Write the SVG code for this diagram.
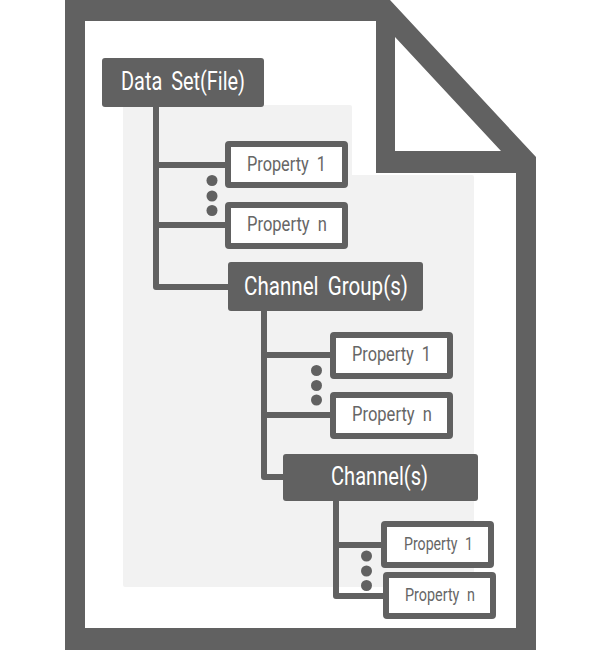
<svg xmlns="http://www.w3.org/2000/svg" width="601" height="650" viewBox="0 0 601 650">
<style>
.dark{fill:#616161}
.prop rect{fill:#fff;stroke:#616161;stroke-width:6}
.head rect{fill:#616161}
text{font-family:"Roboto","Liberation Sans",sans-serif;word-spacing:5px}
.prop text{fill:#666;font-size:20px}
.small text{font-size:17.500px}
.head text{fill:#fff;font-size:25px}
.wire{fill:none;stroke:#616161;stroke-width:6;stroke-linejoin:round}
.dot{fill:#616161}
</style>
<rect width="601" height="650" fill="#fff"/>
<g id="document">
<path class="dark" fill-rule="evenodd" d="M65 0H390L536 157V650H65ZM85 21V628H516V173H376V21ZM395 37V151H501Z"/>
</g>
<g id="shading">
<rect x="123" y="105" width="229" height="80" rx="2" fill="#f2f2f2"/>
<rect x="123" y="175" width="351" height="412" rx="2" fill="#f2f2f2"/>
</g>
<g id="connectors">
<path class="wire" d="M156 107V287H228M156 165H225M156 225H225"/>
<path class="wire" d="M264 311V477H283M264 355H330M264 415H330"/>
<path class="wire" d="M336 501V596H383M336 545H381"/>
<circle class="dot" cx="212" cy="180.500" r="5.500"/><circle class="dot" cx="212" cy="196" r="5.500"/><circle class="dot" cx="212" cy="210.500" r="5.500"/>
<circle class="dot" cx="316.500" cy="370.500" r="5.500"/><circle class="dot" cx="316.500" cy="385.500" r="5.500"/><circle class="dot" cx="316.500" cy="400" r="5.500"/>
<circle class="dot" cx="366.500" cy="556" r="5.500"/><circle class="dot" cx="366.500" cy="571" r="5.500"/><circle class="dot" cx="366.500" cy="585.500" r="5.500"/>
</g>
<g id="data-set" class="head"><rect x="102" y="58" width="162" height="49" rx="3"/><text x="121" y="90" textLength="124" lengthAdjust="spacingAndGlyphs">Data Set(File)</text></g>
<g id="file-property-1" class="prop"><rect x="228" y="144" width="117" height="41" rx="1"/><text x="247" y="171" textLength="79" lengthAdjust="spacingAndGlyphs">Property 1</text></g>
<g id="file-property-n" class="prop"><rect x="228" y="205" width="117" height="41" rx="1"/><text x="247" y="231" textLength="80" lengthAdjust="spacingAndGlyphs">Property n</text></g>
<g id="channel-group" class="head"><rect x="228" y="262" width="195" height="49" rx="3"/><text x="244" y="295" textLength="164" lengthAdjust="spacingAndGlyphs">Channel Group(s)</text></g>
<g id="group-property-1" class="prop"><rect x="333" y="335" width="117" height="41" rx="1"/><text x="352" y="361" textLength="79" lengthAdjust="spacingAndGlyphs">Property 1</text></g>
<g id="group-property-n" class="prop"><rect x="333" y="395" width="117" height="41" rx="1"/><text x="352" y="421" textLength="80" lengthAdjust="spacingAndGlyphs">Property n</text></g>
<g id="channel" class="head"><rect x="283" y="454" width="195" height="47" rx="3"/><text x="331" y="485" textLength="97" lengthAdjust="spacingAndGlyphs">Channel(s)</text></g>
<g id="channel-property-1" class="prop small"><rect x="384" y="524" width="107" height="41" rx="1"/><text x="404" y="550" textLength="69" lengthAdjust="spacingAndGlyphs">Property 1</text></g>
<g id="channel-property-n" class="prop small"><rect x="386" y="575" width="107" height="41" rx="1"/><text x="405" y="601" textLength="70" lengthAdjust="spacingAndGlyphs">Property n</text></g>
</svg>
